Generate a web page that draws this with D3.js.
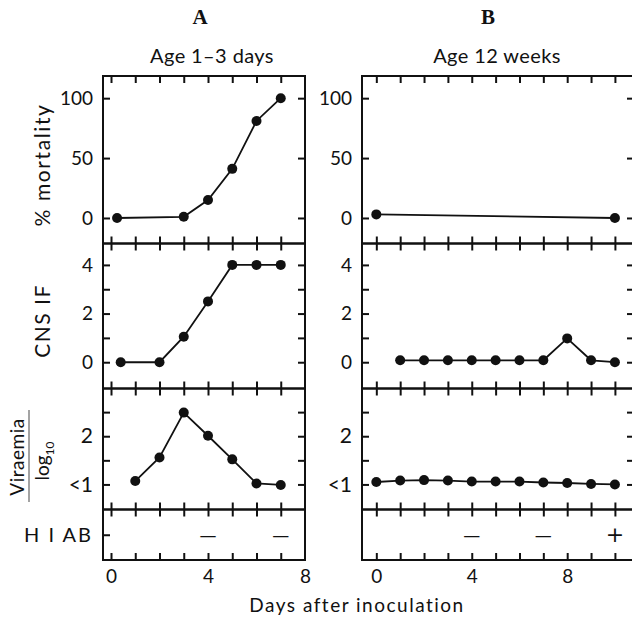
<!DOCTYPE html>
<html><head><meta charset="utf-8">
<script src="https://cdn.jsdelivr.net/npm/d3@7"></script>
<style>
html,body{margin:0;padding:0;background:#fff;}
svg text{font-family:Lato,"Open Sans",sans-serif;fill:#111;}
</style></head>
<body><svg id="c" width="632" height="626"></svg>
<script>
// ---- data ----
const panelTitles = ["A", "B"];
const panelSubtitles = ["Age 1\u20133 days", "Age 12 weeks"];
const rowLabels = ["% mortality", "CNS IF", "Viraemia", "HI AB"];

const daysA_mort = [0.25, 3, 4, 5, 6, 7];
const mortA = [0, 1, 15, 41, 81, 100];
const daysB_mort = [0, 10];
const mortB = [3, 0];

const daysA_cns = [0.4, 2, 3, 4, 5, 6, 7];
const cnsA = [0, 0, 1.05, 2.5, 4, 4, 4];
const daysB_cns = [1, 2, 3, 4, 5, 6, 7, 8, 9, 10];
const cnsB = [0.08, 0.08, 0.08, 0.08, 0.08, 0.08, 0.08, 0.98, 0.08, 0];

const daysA_vir = [1, 2, 3, 4, 5, 6, 7];
const virA = [1.07, 1.56, 2.49, 2.01, 1.52, 1.02, 0.99];
const daysB_vir = [0, 1, 2, 3, 4, 5, 6, 7, 8, 9, 10];
const virB = [1.05, 1.08, 1.09, 1.08, 1.06, 1.06, 1.06, 1.04, 1.03, 1.01, 1.0];

const daysA_hi = [4, 7];
const hiA = ["\u2014", "\u2014"];
const daysB_hi = [4, 7, 10];
const hiB = ["\u2014", "\u2014", "+"];

const xTicksA = [0, 1, 2, 3, 4, 5, 6, 7];
const xTicksB = [0, 1, 2, 3, 4, 5, 6, 7, 8, 9, 10];
const xLabels = [0, 4, 8];

const mortTicks = [0, 50, 100];
const cnsTicks = [0, 1, 2, 3, 4];
const cnsLabels = [0, 2, 4];
const virTicks = [1, 1.5, 2, 2.5];
const virLabels = {1: "<1", 2: "2"};

// ---- layout ----
const svg = d3.select("#c");
const rowsY = [76, 243.5, 388.5, 509.5, 560];
const cols = [
  {x: d3.scaleLinear().domain([-0.33, 8]).range([103, 305]), ticks: xTicksA},
  {x: d3.scaleLinear().domain([-0.6, 10.8]).range([362, 634]), ticks: xTicksB}
];
const yScales = [
  d3.scaleLinear().domain([-21.3, 118.5]).range([rowsY[1], rowsY[0]]),
  d3.scaleLinear().domain([-1.08, 4.88]).range([rowsY[2], rowsY[1]]),
  d3.scaleLinear().domain([0.48, 2.99]).range([rowsY[3], rowsY[2]]),
  d3.scaleLinear().domain([0, 1]).range([rowsY[4], rowsY[3]])
];

const series = [
  [{d: daysA_mort, v: mortA}, {d: daysA_cns, v: cnsA}, {d: daysA_vir, v: virA}],
  [{d: daysB_mort, v: mortB}, {d: daysB_cns, v: cnsB}, {d: daysB_vir, v: virB}]
];
const hiData = [{d: daysA_hi, v: hiA}, {d: daysB_hi, v: hiB}];

const TICK = 7;
function styleAxis(g) {
  g.select(".domain").remove();
  g.selectAll(".tick line").attr("stroke", "#111").attr("stroke-width", 2);
  g.selectAll(".tick text").style("font-size", "19px").attr("fill", "#111");
}

cols.forEach((col, ci) => {
  const x = col.x;
  const [x0, x1] = x.range();
  // Titles
  svg.append("text").attr("x", ci === 0 ? 200 : 488).attr("y", 24)
    .attr("text-anchor", "middle")
    .style("font-family", "'Liberation Serif','DejaVu Serif',serif")
    .style("font-weight", "600")
    .style("font-size", "21px").text(panelTitles[ci]);
  svg.append("text").attr("x", ci === 0 ? 212 : 497).attr("y", 63)
    .attr("text-anchor", "middle").style("font-size", "20px")
    .style("letter-spacing", "0.4px")
    .text(panelSubtitles[ci]);

  for (let r = 0; r < 4; r++) {
    const y = yScales[r];
    const top = rowsY[r], bot = rowsY[r + 1];
    // frame
    svg.append("rect").attr("x", x0).attr("y", top)
      .attr("width", x1 - x0).attr("height", bot - top)
      .attr("fill", "none").attr("stroke", "#111").attr("stroke-width", 2);
    // x ticks top (down) & bottom (up)
    svg.append("g").attr("transform", `translate(0,${top})`)
      .call(d3.axisTop(x).tickValues(col.ticks).tickSize(-TICK).tickFormat(""))
      .call(styleAxis);
    svg.append("g").attr("transform", `translate(0,${bot})`)
      .call(d3.axisBottom(x).tickValues(col.ticks).tickSize(-TICK).tickFormat(""))
      .call(styleAxis);

    // y ticks
    let tv, tf;
    if (r === 0) { tv = mortTicks; tf = d => d; }
    else if (r === 1) { tv = cnsTicks; tf = d => cnsLabels.includes(d) ? d : ""; }
    else if (r === 2) { tv = virTicks; tf = d => virLabels[d] || ""; }
    else { tv = ci === 0 ? [0.5] : []; tf = () => "H I AB"; }
    if (tv.length) {
      const gl = svg.append("g").attr("transform", `translate(${x0},0)`)
        .call(d3.axisLeft(y).tickValues(tv).tickSize(-TICK).tickPadding(10).tickFormat(tf))
        .call(styleAxis);
      if (r === 2) gl.selectAll(".tick text").style("font-size", "21px");
      if (r === 3) gl.selectAll(".tick text").style("font-size", "20px").style("letter-spacing", "2px");
    }
    if (r < 3) {
      svg.append("g").attr("transform", `translate(${x1},0)`)
        .call(d3.axisRight(y).tickValues(tv).tickSize(-TICK).tickFormat(""))
        .call(styleAxis);
    }

    // data
    if (r < 3) {
      const s = series[ci][r];
      const pts = s.d.map((d, i) => [x(d), y(s.v[i])]);
      svg.append("path").attr("d", d3.line()(pts))
        .attr("fill", "none").attr("stroke", "#111").attr("stroke-width", 1.8);
      svg.selectAll(null).data(pts).enter().append("circle")
        .attr("cx", p => p[0]).attr("cy", p => p[1]).attr("r", 5)
        .attr("fill", "#111");
    } else {
      const h = hiData[ci];
      h.d.forEach((d, i) => {
        svg.append("text").attr("x", x(d)).attr("y", y(0.5))
          .attr("dy", "0.35em").attr("text-anchor", "middle")
          .style("font-family", "'DejaVu Sans',sans-serif")
          .style("font-size", h.v[i] === "+" ? "22px" : "17px")
          .text(h.v[i]);
      });
    }
  }
  // x tick labels
  svg.append("g").attr("transform", `translate(0,${rowsY[4]})`)
    .call(d3.axisBottom(x).tickValues(xLabels).tickSize(0).tickPadding(10).tickFormat(d => d))
    .call(styleAxis);
});

// row labels
svg.append("text").attr("transform", "translate(50,165) rotate(-90)")
  .attr("text-anchor", "middle").style("font-size", "21px").style("letter-spacing", "1.6px")
  .text(rowLabels[0]);
svg.append("text").attr("transform", "translate(50,321) rotate(-90)")
  .attr("text-anchor", "middle").style("font-size", "21px").style("letter-spacing", "1.5px")
  .text(rowLabels[1]);
svg.append("text").attr("transform", "translate(24,457) rotate(-90)")
  .attr("text-anchor", "middle").style("font-size", "19px").style("letter-spacing", "0.5px")
  .attr("fill", "#333")
  .text(rowLabels[2]);
svg.append("line").attr("x1", 29).attr("x2", 29).attr("y1", 410).attr("y2", 502)
  .attr("stroke", "#666").attr("stroke-width", 1.2);
const lg = svg.append("text").attr("transform", "translate(49,461) rotate(-90)")
  .attr("text-anchor", "middle").style("font-size", "19px");
lg.append("tspan").text("log");
lg.append("tspan").attr("dy", 5).style("font-size", "12px").text("10");

// x axis title
svg.append("text").attr("x", 357).attr("y", 612).attr("text-anchor", "middle")
  .style("font-size", "19px").style("letter-spacing", "1.5px")
  .text("Days after inoculation");
</script></body></html>
